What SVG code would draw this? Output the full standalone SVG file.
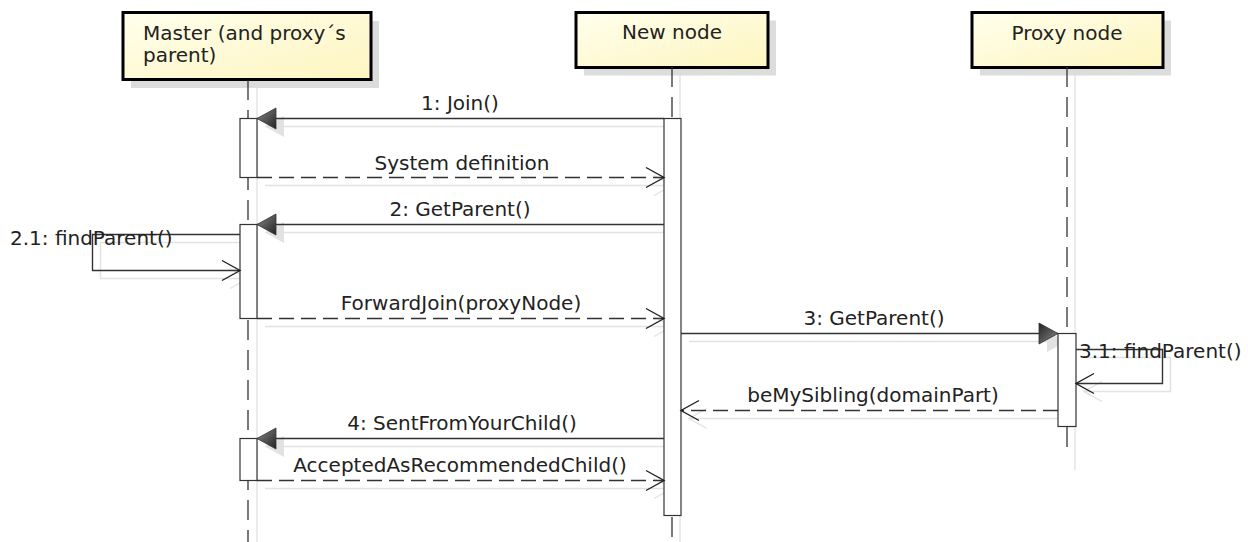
<svg xmlns="http://www.w3.org/2000/svg" width="1259" height="542" viewBox="0 0 1259 542">
  <defs>
    <linearGradient id="headFill" x1="0" y1="0" x2="1" y2="1">
      <stop offset="0" stop-color="#FFFFEC"/>
      <stop offset="1" stop-color="#FEF5C0"/>
    </linearGradient>
    <linearGradient id="headGrad" x1="0" y1="0" x2="1" y2="1">
      <stop offset="0" stop-color="#222222"/>
      <stop offset="1" stop-color="#8a8a8a"/>
    </linearGradient>
    <!-- synchronous call: filled triangle -->
    <marker id="filled" markerUnits="userSpaceOnUse" viewBox="-21 -12 23 24" refX="0" refY="0" markerWidth="23" markerHeight="24" orient="auto" overflow="visible">
      <path d="M0,0 L-19,-10.5 L-19,10.5 Z" fill="url(#headGrad)" stroke="#333" stroke-width="0.8"/>
    </marker>
    <marker id="filledShadow" markerUnits="userSpaceOnUse" viewBox="-21 -12 23 24" refX="0" refY="0" markerWidth="23" markerHeight="24" orient="auto" overflow="visible">
      <path d="M0,0 L-19,-10.5 L-19,10.5 Z" fill="#e2e2e2"/>
    </marker>
    <!-- reply / self call: open chevron -->
    <marker id="open" markerUnits="userSpaceOnUse" viewBox="-20 -12 22 24" refX="0" refY="0" markerWidth="22" markerHeight="24" orient="auto" overflow="visible">
      <path d="M-18,-10 L0,0 L-18,10" fill="none" stroke="#222" stroke-width="1.4"/>
    </marker>
    <marker id="openShadow" markerUnits="userSpaceOnUse" viewBox="-20 -12 22 24" refX="0" refY="0" markerWidth="22" markerHeight="24" orient="auto" overflow="visible">
      <path d="M-18,-10 L0,0 L-18,10" fill="none" stroke="#e2e2e2" stroke-width="1.4"/>
    </marker>
  </defs>
  <style>
    .head { fill: url(#headFill); stroke: #000; stroke-width: 3; }
    .headShadow { fill: #dcdcdc; }
    .life { stroke: #333; stroke-width: 1.3; stroke-dasharray: 20 10; fill: none; }
    .lifeShadow { stroke: #e4e4e4; stroke-width: 1.5; fill: none; }
    .act { fill: #fff; stroke: #333; stroke-width: 1.2; }
    .msg { stroke: #333; stroke-width: 1.4; fill: none; }
    .reply { stroke-dasharray: 15 7; }
    .shadow { stroke: #e2e2e2; stroke-width: 1.5; fill: none; }
    .label { font-family: "DejaVu Sans", "Liberation Sans", sans-serif; font-size: 20px; fill: #222; }
    .mid { text-anchor: middle; }
  </style>

  <rect width="1259" height="542" fill="#ffffff"/>

  <!-- Lifeline shadows -->
  <g id="lifeline-shadows">
    <line class="lifeShadow" x1="257" y1="88" x2="257" y2="542"/>
    <line class="lifeShadow" x1="680" y1="75" x2="680" y2="542"/>
    <line class="lifeShadow" x1="1075" y1="75" x2="1075" y2="470"/>
  </g>

  <!-- Participant: Master -->
  <g id="master">
    <rect class="headShadow" x="131" y="21" width="248" height="67"/>
    <rect class="head" x="123" y="12.5" width="248" height="67"/>
    <text class="label" x="143" y="40">Master (and proxy´s</text>
    <text class="label" x="143" y="62">parent)</text>
    <line class="life" x1="248" y1="80" x2="248" y2="542"/>
  </g>

  <!-- Participant: New node -->
  <g id="new-node">
    <rect class="headShadow" x="584" y="20.5" width="192" height="55"/>
    <rect class="head" x="576" y="12.5" width="192" height="55"/>
    <text class="label mid" x="672" y="39">New node</text>
    <line class="life" x1="672" y1="67" x2="672" y2="542"/>
  </g>

  <!-- Participant: Proxy node -->
  <g id="proxy-node">
    <rect class="headShadow" x="980" y="20.5" width="191" height="55"/>
    <rect class="head" x="972" y="12.5" width="191" height="55"/>
    <text class="label mid" x="1067" y="40">Proxy node</text>
    <line class="life" x1="1067" y1="67" x2="1067" y2="453"/>
  </g>

  <!-- Message shadows -->
  <g id="connector-shadows" transform="translate(8,8)">
    <line class="shadow" x1="664" y1="118.5" x2="257" y2="118.5" marker-end="url(#filledShadow)"/>
    <line class="shadow" x1="257" y1="177.5" x2="664" y2="177.5" marker-end="url(#openShadow)"/>
    <line class="shadow" x1="664" y1="224.5" x2="257" y2="224.5" marker-end="url(#filledShadow)"/>
    <polyline class="shadow" points="240,234.5 92.5,234.5 92.5,270.5 240,270.5" marker-end="url(#openShadow)"/>
    <line class="shadow" x1="257" y1="318.5" x2="664" y2="318.5" marker-end="url(#openShadow)"/>
    <line class="shadow" x1="681" y1="333.5" x2="1058" y2="333.5" marker-end="url(#filledShadow)"/>
    <polyline class="shadow" points="1076,349.5 1162.5,349.5 1162.5,383.5 1076,383.5" marker-end="url(#openShadow)"/>
    <line class="shadow" x1="1058" y1="410.5" x2="681" y2="410.5" marker-end="url(#openShadow)"/>
    <line class="shadow" x1="664" y1="438.5" x2="257" y2="438.5" marker-end="url(#filledShadow)"/>
    <line class="shadow" x1="257" y1="480.5" x2="664" y2="480.5" marker-end="url(#openShadow)"/>
  </g>

  <!-- Activation bars -->
  <g id="activations">
    <rect class="act" x="240" y="118.5" width="17" height="59"/>
    <rect class="act" x="240" y="224.5" width="17" height="94"/>
    <rect class="act" x="240" y="438.5" width="17" height="42"/>
    <rect class="act" x="664" y="118.5" width="17" height="397"/>
    <rect class="act" x="1058" y="333.5" width="18" height="93"/>
  </g>

  <!-- Messages -->
  <g id="connectors">
    <line class="msg" x1="664" y1="118.5" x2="257" y2="118.5" marker-end="url(#filled)"/>
    <text class="label mid" x="460" y="110">1: Join()</text>

    <line class="msg reply" x1="257" y1="177.5" x2="664" y2="177.5" marker-end="url(#open)"/>
    <text class="label mid" x="462" y="170">System definition</text>

    <line class="msg" x1="664" y1="224.5" x2="257" y2="224.5" marker-end="url(#filled)"/>
    <text class="label mid" x="460" y="216">2: GetParent()</text>

    <polyline class="msg" points="240,234.5 92.5,234.5 92.5,270.5 240,270.5" marker-end="url(#open)"/>
    <text class="label" x="10" y="245">2.1: findParent()</text>

    <line class="msg reply" x1="257" y1="318.5" x2="664" y2="318.5" marker-end="url(#open)"/>
    <text class="label mid" x="461" y="310">ForwardJoin(proxyNode)</text>

    <line class="msg" x1="681" y1="333.5" x2="1058" y2="333.5" marker-end="url(#filled)"/>
    <text class="label mid" x="874" y="325">3: GetParent()</text>

    <polyline class="msg" points="1076,349.5 1162.5,349.5 1162.5,383.5 1076,383.5" marker-end="url(#open)"/>
    <text class="label" x="1079" y="358">3.1: findParent()</text>

    <line class="msg reply" x1="1058" y1="410.5" x2="681" y2="410.5" marker-end="url(#open)"/>
    <text class="label mid" x="873" y="402">beMySibling(domainPart)</text>

    <line class="msg" x1="664" y1="438.5" x2="257" y2="438.5" marker-end="url(#filled)"/>
    <text class="label mid" x="462" y="430">4: SentFromYourChild()</text>

    <line class="msg reply" x1="257" y1="480.5" x2="664" y2="480.5" marker-end="url(#open)"/>
    <text class="label mid" x="460" y="472">AcceptedAsRecommendedChild()</text>
  </g>
</svg>
